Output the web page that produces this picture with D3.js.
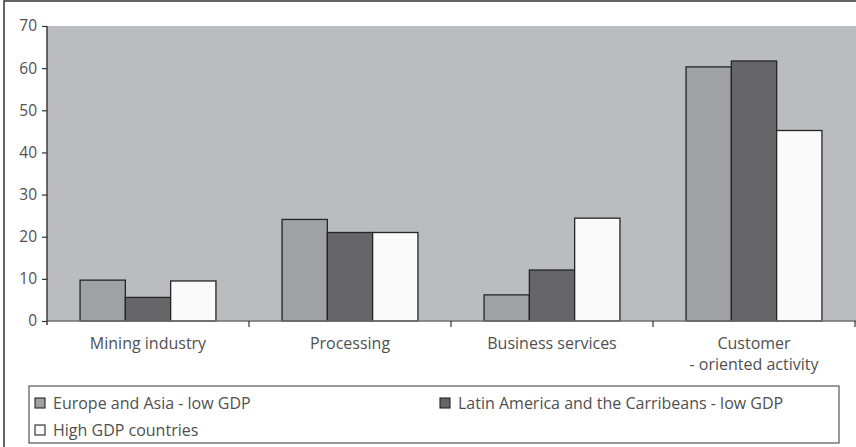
<!DOCTYPE html>
<html>
<head>
<meta charset="utf-8">
<script src="https://cdn.jsdelivr.net/npm/d3@7"></script>
<style>
  html, body { margin: 0; padding: 0; background: #fff; }
  svg { display: block; }
  text { font-family: "Open Sans", "DejaVu Sans", sans-serif; fill: #505050; }
</style>
</head>
<body>
<svg id="chart" width="856" height="447"></svg>
<script>
// Activity categories (x axis); "\n" splits a label over two lines
const categories = ["Mining industry", "Processing", "Business services", "Customer\n- oriented activity"];

// Series names as shown in the legend
const seriesNames = ["Europe and Asia - low GDP", "Latin America and the Carribeans - low GDP", "High GDP countries"];

// Values per series, in category order
const europeAsia = [9.7, 24.1, 6.2, 60.3];
const latinAmerica = [5.6, 21.0, 12.1, 61.7];
const highGdp = [9.5, 21.0, 24.4, 45.2];

const yTicks = [0, 10, 20, 30, 40, 50, 60, 70];

const seriesValues = [europeAsia, latinAmerica, highGdp];
const seriesColors = ["#a0a1a5", "#666668", "#fafafa"];

const svg = d3.select("#chart");

// Outer frame
svg.append("rect")
  .attr("x", 4).attr("y", 1)
  .attr("width", 860).attr("height", 460)
  .attr("fill", "none").attr("stroke", "#333").attr("stroke-width", 1.5);

const plot = { left: 47, right: 855, top: 26, bottom: 321 };

const x0 = d3.scaleBand().domain(categories).range([plot.left, plot.right]).paddingInner(0).paddingOuter(0);
const x1 = d3.scaleBand().domain(d3.range(seriesNames.length)).range([0, x0.bandwidth()]).paddingInner(0).paddingOuter(0.73);
const y = d3.scaleLinear().domain([0, 70]).range([plot.bottom, plot.top]);

// Plot background
svg.append("rect")
  .attr("x", plot.left).attr("y", plot.top)
  .attr("width", 856 - plot.left).attr("height", plot.bottom - plot.top)
  .attr("fill", "#bbbcc0");

// Bars
const groups = svg.append("g").selectAll("g")
  .data(categories)
  .join("g")
  .attr("transform", d => `translate(${x0(d)},0)`);

groups.selectAll("rect")
  .data((c, ci) => seriesValues.map((vals, si) => ({ si, v: vals[ci] })))
  .join("rect")
  .attr("x", d => x1(d.si))
  .attr("width", x1.bandwidth())
  .attr("y", d => y(d.v))
  .attr("height", d => y(0) - y(d.v))
  .attr("fill", d => seriesColors[d.si])
  .attr("stroke", "#252525")
  .attr("stroke-width", 1.3);

// X axis
const xAxis = svg.append("g").attr("transform", `translate(0,${plot.bottom})`);
xAxis.append("line")
  .attr("x1", plot.left).attr("x2", 856)
  .attr("y1", 0).attr("y2", 0)
  .attr("stroke", "#707070").attr("stroke-width", 1.3);
xAxis.selectAll("line.tick")
  .data(categories)
  .join("line")
  .attr("class", "tick")
  .attr("x1", d => x0(d) + x0.bandwidth()).attr("x2", d => x0(d) + x0.bandwidth())
  .attr("y1", 0).attr("y2", 6)
  .attr("stroke", "#333").attr("stroke-width", 1.2);

const catLabels = svg.append("g").selectAll("text")
  .data(categories)
  .join("text")
  .attr("x", d => x0(d) + x0.bandwidth() / 2)
  .attr("y", 349)
  .attr("text-anchor", "middle")
  .attr("font-size", 16);
catLabels.selectAll("tspan")
  .data(d => d.split("\n"))
  .join("tspan")
  .attr("x", function () { return d3.select(this.parentNode).attr("x"); })
  .attr("dy", (d, i) => i === 0 ? 0 : 21)
  .text(d => d);

// Y axis
const yAxis = d3.axisLeft(y).tickValues(yTicks).tickSize(5).tickPadding(5);
const yg = svg.append("g").attr("transform", `translate(${plot.left},0)`).call(yAxis);
yg.select(".domain").remove();
yg.selectAll(".tick line").attr("stroke", "#333").attr("stroke-width", 1.2);
yg.selectAll(".tick text")
  .attr("font-family", "\"Open Sans\", sans-serif")
  .attr("font-size", 15.5)
  .attr("fill", "#505050");
yg.append("line")
  .attr("x1", 0).attr("x2", 0)
  .attr("y1", plot.top).attr("y2", plot.bottom + 4)
  .attr("stroke", "#333").attr("stroke-width", 1.4);

// Legend
const legend = svg.append("g");
legend.append("rect")
  .attr("x", 29).attr("y", 386)
  .attr("width", 810).attr("height", 57)
  .attr("fill", "#fff").attr("stroke", "#555").attr("stroke-width", 1.2);

const legendPos = [[35, 403], [440, 403], [35, 430]];
const items = legend.selectAll("g.item")
  .data(seriesNames)
  .join("g")
  .attr("class", "item")
  .attr("transform", (d, i) => `translate(${legendPos[i][0]},${legendPos[i][1]})`);
items.append("rect")
  .attr("x", 0).attr("y", -5)
  .attr("width", 10).attr("height", 10)
  .attr("fill", (d, i) => seriesColors[i])
  .attr("stroke", "#252525").attr("stroke-width", 1.1);
items.append("text")
  .attr("x", 18).attr("y", 5.5)
  .attr("font-size", 16)
  .text(d => d);
</script>
</body>
</html>
